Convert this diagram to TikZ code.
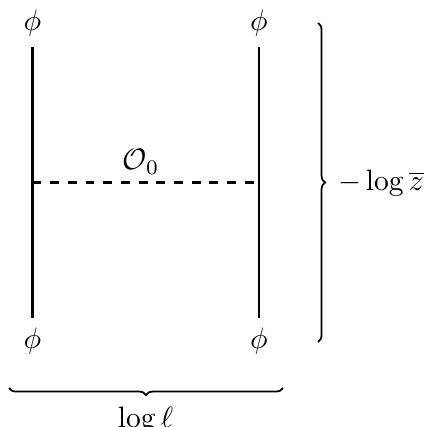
\documentclass[tikz,border=0pt]{standalone}
\usepackage{amsmath,amssymb}
\usetikzlibrary{calc, decorations.pathreplacing}

\begin{document}
\begin{tikzpicture}[
  x=0.339pt, y=-0.339pt,
  field/.style={inner sep=3.33pt},
  wire/.style={line width=0.7pt},
  bracket/.style={line width=0.6pt, decorate, decoration={brace, amplitude=2.4pt}},
  tag/.style={inner sep=0pt}
]
\useasboundingbox (0,0) rectangle (423,427);

% external fields
\node[field] (tl) at (32.5,23.5)  {$\phi$};
\node[field] (tr) at (259,23.5)   {$\phi$};
\node[field] (bl) at (32.5,341.5) {$\phi$};
\node[field] (br) at (259,341.5)  {$\phi$};

\draw[wire] (tl) -- (bl);
\draw[wire] (tr) -- (br);

% exchanged operator
\coordinate (ml) at ($(tl)!.5!(bl)$);
\coordinate (mr) at ($(tr)!.5!(br)$);
\draw[wire, dashed] (ml) -- (mr);
\node[tag, anchor=base] (op) at (141,170) {$\mathcal{O}_0$};

% scales
\coordinate (rt) at (318,23);
\coordinate (rb) at (318,342);
\draw[bracket] (rt) -- (rb);
\node[tag, anchor=west] (zbar) at (337.5,183) {$-\log\overline{z}$};

\coordinate (br1) at (283,388);
\coordinate (br0) at (9,388);
\draw[bracket] (br1) -- (br0);
\node[tag, anchor=north] (ell) at (145.5,406) {$\log\ell$};
\end{tikzpicture}
\end{document}
